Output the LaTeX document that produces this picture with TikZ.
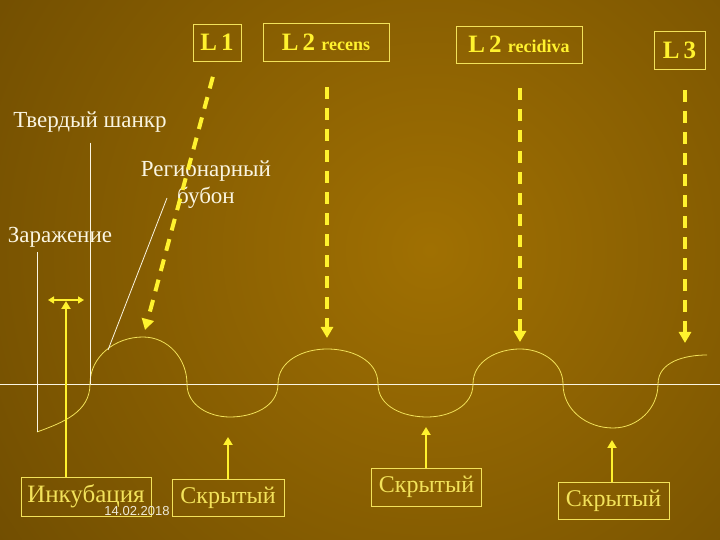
\documentclass[tikz,border=0pt]{standalone}
\usepackage{fontspec}
\setmainfont{Liberation Serif}
\newfontfamily\datefont{Liberation Sans}
\usetikzlibrary{arrows.meta}

\definecolor{bgin}{HTML}{A07002}
\definecolor{bgout}{HTML}{472F00}
\definecolor{lyel}{HTML}{FFF22E}
\definecolor{byel}{HTML}{F2E25A}
\definecolor{cream}{HTML}{FAF5E1}

\begin{document}
\begin{tikzpicture}[x=1pt, y=1pt,
  lbox/.style={draw=byel, line width=0.8pt, text=lyel, inner sep=0pt,
    font=\bfseries\fontsize{25}{27}\selectfont},
  sbox/.style={draw=byel, line width=0.8pt, text=byel, inner sep=0pt,
    font=\fontsize{24}{26}\selectfont},
  lab/.style={text=cream, inner sep=0pt, font=\fontsize{23}{27}\selectfont},
  dsh/.style={lyel, line width=4pt, dash pattern=on 12pt off 9pt,
    -{Triangle[length=11pt,width=12pt]}},
  up/.style={lyel, line width=2.8pt, -{Triangle[length=8pt,width=9pt]}},
  wln/.style={cream, line width=0.8pt},
  wave/.style={byel, line width=0.8pt}
]
\useasboundingbox (0,0) rectangle (720,540);

% background
\begin{scope}
\clip (0,0) rectangle (720,540);
\fill[bgout] (0,0) rectangle (720,540);
\shade[inner color=bgin, outer color=bgout] (430,290) circle (1000);
\end{scope}

% points of the wave
\coordinate (w0) at (37,108);
\coordinate (w1) at (90,156);
\coordinate (w2) at (143,203);
\coordinate (w3) at (187,156);
\coordinate (w4) at (230,123);
\coordinate (w5) at (278,156);
\coordinate (w6) at (327,191);
\coordinate (w7) at (378,156);
\coordinate (w8) at (427,123);
\coordinate (w9) at (473,156);
\coordinate (w10) at (520,191);
\coordinate (w11) at (563,156);
\coordinate (w12) at (613,112);
\coordinate (w13) at (658,156);
\coordinate (w14) at (707,185);

% arrow ends
\coordinate (t1) at (145,210);
\coordinate (t2) at (327,202);
\coordinate (t3) at (520,198);
\coordinate (t4) at (685,197);
\coordinate (s1) at (228,103);
\coordinate (s2) at (426,113);
\coordinate (s3) at (612,100);
\coordinate (inc) at (66,240);
\coordinate (ia) at (48,240);
\coordinate (ib) at (84,240);
\coordinate (h0) at (0,156);
\coordinate (h1) at (720,156);
\coordinate (b0) at (167,342);
\coordinate (b1) at (108,190);

% labels
\node[lbox, minimum width=48pt, minimum height=37pt] (l1) at (217,497.5) {L\,1};
\node[lbox, minimum width=126pt, minimum height=38pt] (l2a) at (326,498)
  {L\,2 {\fontsize{18}{20}\selectfont recens}};
\node[lbox, minimum width=126pt, minimum height=37pt] (l2b) at (519,495.5)
  {L\,2 {\fontsize{18}{20}\selectfont recidiva}};
\node[lbox, minimum width=51pt, minimum height=38pt] (l3) at (679.5,490) {L\,3};

\node[lab] (tv) at (90,418) {Твердый шанкр};
\node[lab, align=center] (reg) at (206,355.5) {Регионарный\\бубон};
\node[lab] (zar) at (60,303) {Заражение};

\node[sbox, minimum width=130pt, minimum height=39pt] (ink) at (86,43.5)
  {\fontsize{25}{27}\selectfont Инкубация};
\node[sbox, minimum width=112pt, minimum height=37pt] (sk1) at (228,42.5) {Скрытый};
\node[sbox, minimum width=110pt, minimum height=38pt] (sk2) at (426.5,53) {Скрытый};
\node[sbox, minimum width=111pt, minimum height=37pt] (sk3) at (613.5,39.5) {Скрытый};

% axis and wave
\draw[wln] (h0) -- (h1);
\draw[wave] (w0) to[out=20,in=-90] (w1) to[out=90,in=180] (w2)
  to[out=0,in=90] (w3) to[out=-90,in=180] (w4) to[out=0,in=-90] (w5)
  to[out=90,in=180] (w6) to[out=0,in=90] (w7) to[out=-90,in=180] (w8)
  to[out=0,in=-90] (w9) to[out=90,in=180] (w10) to[out=0,in=90] (w11)
  to[out=-90,in=180] (w12) to[out=0,in=-90] (w13) to[out=90,in=180] (w14);

% white pointers
\draw[wln, shorten <=10pt] (tv.south) -- (w1);
\draw[wln, shorten <=5pt] (zar.south -| w0) -- (w0);
\draw[wln] (b0) -- (b1);

% dashed arrows
\draw[dsh, shorten <=16pt] (l1.south) -- (t1);
\draw[dsh, shorten <=26pt] (l2a.south -| t2) -- (t2);
\draw[dsh, shorten <=25pt] (l2b.south -| t3) -- (t3);
\draw[dsh, shorten <=21pt] (l3.south -| t4) -- (t4);

% solid arrows
\draw[up] (ink.north -| inc) -- ([yshift=-1pt]inc);
\draw[lyel, line width=2pt, {Triangle[length=6pt,width=7pt]}-{Triangle[length=6pt,width=7pt]}] (ia) -- (ib);
\draw[up] (sk1.north) -- (s1);
\draw[up] (sk2.north -| s2) -- (s2);
\draw[up] (sk3.north -| s3) -- (s3);

\node[text=cream!90!gray, inner sep=0pt, font=\datefont\fontsize{13}{14}\selectfont] (date) at (137,29) {14.02.2018};
\end{tikzpicture}
\end{document}
